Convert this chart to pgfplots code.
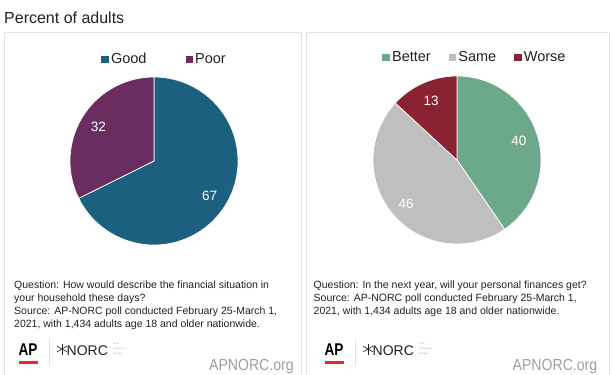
\documentclass[border=0pt]{standalone}
\usepackage{fontspec}
\setmainfont{Liberation Sans}
\usepackage{pgfplots}
\usepackage{pgfplotstable}
\pgfplotsset{compat=1.18}
\definecolor{cgood}{HTML}{1D5F7E}
\definecolor{cpoor}{HTML}{6B2D60}
\definecolor{cbetter}{HTML}{6BA98A}
\definecolor{csame}{HTML}{BFBFBF}
\definecolor{cworse}{HTML}{8B2232}
\definecolor{cpanel}{HTML}{E3E3E3}
\definecolor{ctext}{HTML}{222222}
\definecolor{capred}{HTML}{E8262B}
\newcommand\fs[2]{\fontsize{#1bp}{#2bp}\selectfont}

\pgfplotstableread{
cat value
Good 67
Poor 32
}\tabA
\pgfplotstableread{
cat value
Better 40
Same 46
Worse 13
}\tabB

\tikzset{lbl/.style={text=white, font=\fs{13.5}{14}},
  tiny/.style={anchor=base west, inner sep=0, text=gray!70, font=\fs{2.3}{2.5}}}

\begin{document}
\begin{tikzpicture}[x=1bp,y=-1bp]
\useasboundingbox[fill=white] (0,0) rectangle (612,374);

\node[anchor=base west, inner sep=0, text=ctext, font=\fs{16}{18}] at (4,23) {Percent of adults};

\draw[cpanel, line width=0.9bp] (4,32) rectangle (301,390);
\draw[cpanel, line width=0.9bp] (306,32) rectangle (609,390);

% ---- values and angles
\pgfplotstablegetelem{0}{value}\of\tabA \edef\gA{\pgfplotsretval}
\pgfplotstablegetelem{1}{value}\of\tabA \edef\pA{\pgfplotsretval}
\pgfmathsetmacro\tA{\gA+\pA}
\pgfmathsetmacro\bGP{90-360*(\gA/\tA)}
\pgfmathsetmacro\midG{(90+\bGP)/2}
\pgfmathsetmacro\midP{(\bGP-270)/2}

\pgfplotstablegetelem{0}{value}\of\tabB \edef\bB{\pgfplotsretval}
\pgfplotstablegetelem{1}{value}\of\tabB \edef\sB{\pgfplotsretval}
\pgfplotstablegetelem{2}{value}\of\tabB \edef\wB{\pgfplotsretval}
\pgfmathsetmacro\tB{\bB+\sB+\wB}
\pgfmathsetmacro\bBS{90-360*(\bB/\tB)}
\pgfmathsetmacro\bSW{90-360*((\bB+\sB)/\tB)}
\pgfmathsetmacro\midB{(90+\bBS)/2}
\pgfmathsetmacro\midS{(\bBS+\bSW)/2}
\pgfmathsetmacro\midW{(\bSW-270)/2}

\pgfplotsset{
  pieaxis/.style={
    anchor=center, scale only axis, width=168bp, height=168bp,
    xmin=-1, xmax=1, ymin=-1, ymax=1, hide axis, clip=false,
    legend columns=-1,
    legend image code/.code={\fill[##1, draw=none] (0bp,-3.8bp) rectangle (7.6bp,3.8bp);},
  },
  wedge/.style={draw=white, line width=0.7bp, samples=90, variable=\t},
}

% ---- left pie
\begin{axis}[pieaxis, at={(154bp,-161bp)},
  legend style={at={(0.563,1.105)}, anchor=center, draw=none, fill=none,
    font=\fs{14.5}{16}, text=ctext,
    nodes={inner sep=2bp},
    /tikz/every even column/.append style={column sep=37bp}}]
\addplot[wedge, fill=cgood, domain=\bGP:90] ({cos(\t)},{sin(\t)}) -- (axis cs:0,0) -- cycle;
\addlegendentry{Good}
\addplot[wedge, fill=cpoor, domain=-270:\bGP] ({cos(\t)},{sin(\t)}) -- (axis cs:0,0) -- cycle;
\addlegendentry{Poor}
\node[lbl] at (axis cs:{0.78*cos(\midG)},{0.78*sin(\midG)}) {\gA};
\node[lbl] at (axis cs:{0.78*cos(\midP)},{0.78*sin(\midP)}) {\pA};
\end{axis}

% ---- right pie
\begin{axis}[pieaxis, at={(457bp,-160bp)},
  legend style={at={(0.607,1.11)}, anchor=center, draw=none, fill=none,
    font=\fs{14.5}{16}, text=ctext,
    nodes={inner sep=2bp},
    /tikz/every even column/.append style={column sep=16bp}}]
\addplot[wedge, fill=cbetter, domain=\bBS:90] ({cos(\t)},{sin(\t)}) -- (axis cs:0,0) -- cycle;
\addlegendentry{Better}
\addplot[wedge, fill=csame, domain=\bSW:\bBS] ({cos(\t)},{sin(\t)}) -- (axis cs:0,0) -- cycle;
\addlegendentry{Same}
\addplot[wedge, fill=cworse, domain=-270:\bSW] ({cos(\t)},{sin(\t)}) -- (axis cs:0,0) -- cycle;
\addlegendentry{Worse}
\node[lbl] at (axis cs:{0.77*cos(\midB)},{0.77*sin(\midB)}) {\bB};
\node[lbl] at (axis cs:{0.80*cos(\midS)},{0.80*sin(\midS)}) {\sB};
\node[lbl] at (axis cs:{0.77*cos(\midW)},{0.77*sin(\midW)}) {\wB};
\end{axis}

% ---- notes
\node[anchor=base west, inner sep=0, align=left, text=ctext, font=\fs{10.5}{12.7}] at (14,327)
 {Question: How would describe the financial situation in\\
  your household these days?\\
  Source: AP-NORC poll conducted February 25-March 1,\\
  2021, with 1,434 adults age 18 and older nationwide.};
\node[anchor=base west, inner sep=0, align=left, text=ctext, font=\fs{10.5}{12.7}] at (313.5,314.3)
 {Question: In the next year, will your personal finances get?\\
  Source: AP-NORC poll conducted February 25-March 1,\\
  2021, with 1,434 adults age 18 and older nationwide.};

% ---- logos
\foreach \ox in {0,306}{
  \begin{scope}[xshift=\ox bp]
  \node[anchor=base west, inner sep=0, xscale=0.8, font=\bfseries\fs{17}{17}] at (18.5,355.5) {AP};
  \fill[capred] (19,361) rectangle (37.5,364);
  \draw[cpanel, line width=0.7bp] (49,339) -- (49,366);
  \foreach \a in {0,60,120}{
    \draw[ctext, line width=0.6bp] (62,349) ++(\a+90:5.5) -- ++(\a+270:11);
  }
  \node[anchor=base west, inner sep=0, text=ctext, font=\fs{14}{15}] at (66.5,355) {NORC};
  \node[tiny] at (113,344.5) {at the};
  \node[tiny] at (113,349.5) {University of};
  \node[tiny] at (113,354.5) {Chicago};
  \end{scope}
}
\node[anchor=base west, inner sep=0, xscale=0.88, text=gray!75, font=\fs{16}{16}] at (209,370.5) {APNORC.org};
\node[anchor=base west, inner sep=0, xscale=0.88, text=gray!75, font=\fs{16}{16}] at (512.5,370.5) {APNORC.org};
\end{tikzpicture}
\end{document}
